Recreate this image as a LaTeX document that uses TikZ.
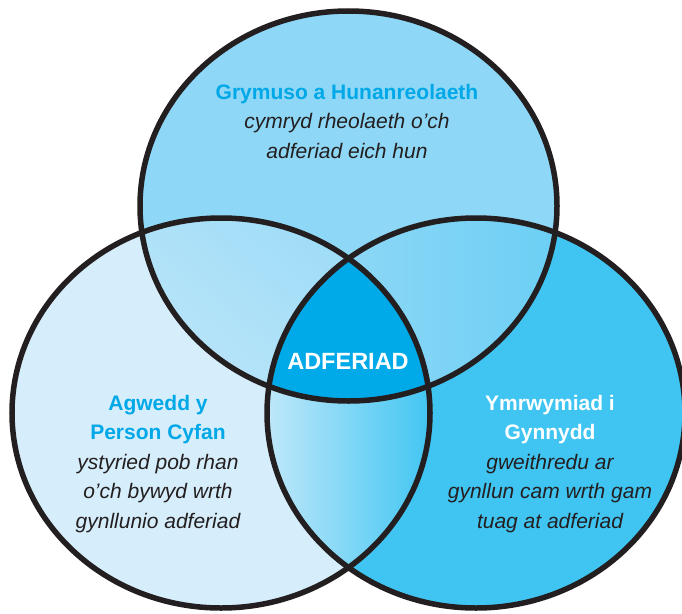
\documentclass[tikz,border=0pt]{standalone}
\usepackage{fontspec}
\setmainfont{Liberation Sans}
\usetikzlibrary{shadings}
\definecolor{topc}{HTML}{8ED7F6}
\definecolor{leftc}{HTML}{D6EEFB}
\definecolor{rightc}{HTML}{40C5F2}
\definecolor{midc}{HTML}{00A9E7}
\definecolor{titlec}{HTML}{00A8E8}
\definecolor{ringc}{HTML}{231F20}
\definecolor{bodyc}{HTML}{231F20}
\begin{document}
\begin{tikzpicture}[x=1pt,y=-1pt,
  ring/.style={draw=ringc,line width=5.5pt},
  blocktext/.style={align=center,inner sep=0pt,text=bodyc,font=\fontsize{21}{29.5}\selectfont},
  heading/.style={font=\bfseries,text=titlec}]
\useasboundingbox (0,0) rectangle (682,613);
\fill[white] (0,0) rectangle (682,613);
\def\topE{(348.5,206) ellipse [x radius=208.5pt, y radius=195pt]}
\def\leftE{(221,413) ellipse [x radius=209pt, y radius=195pt]}
\def\rightE{(476,413) ellipse [x radius=209pt, y radius=195pt]}
% single regions
\fill[leftc] \leftE;
\fill[rightc] \rightE;
\fill[topc] \topE;
% top & left
\begin{scope}
  \clip \topE; \clip \leftE;
  \shade[lower left=leftc!70!topc, upper right=topc!85!leftc,
         upper left=leftc!45!topc, lower right=leftc!45!topc] (135,215) rectangle (360,405);
\end{scope}
% top & right
\begin{scope}
  \clip \topE; \clip \rightE;
  \shade[left color=topc, right color=topc!55!rightc] (340,215) rectangle (562,405);
\end{scope}
% left & right
\begin{scope}
  \clip \leftE; \clip \rightE;
  \shade[left color=leftc!85!rightc, right color=rightc] (266,215) rectangle (432,612);
\end{scope}
% centre
\begin{scope}
  \clip \topE; \clip \leftE; \clip \rightE;
  \fill[midc] (260,250) rectangle (440,410);
\end{scope}
% outlines
\draw[ring] \topE;
\draw[ring] \leftE;
\draw[ring] \rightE;
% texts
\node[blocktext] (toptext) at (347,121)
  {{\bfseries\color{titlec}Grymuso a Hunanreolaeth}\\ \itshape cymryd rheolaeth o'ch\\ \itshape adferiad eich hun};
\node[font=\fontsize{23.5}{28}\selectfont\bfseries,text=white,inner sep=0pt] (centre) at (348,361) {ADFERIAD};
\node[blocktext] (lefttext) at (158,464)
  {{\bfseries\color{titlec}Agwedd y}\\ {\bfseries\color{titlec}Person Cyfan}\\ \itshape ystyried pob rhan\\ \itshape o'ch bywyd wrth\\ \itshape gynllunio adferiad};
\node[blocktext] (righttext) at (550,464)
  {{\bfseries\color{white}Ymrwymiad i}\\ {\bfseries\color{white}Gynnydd}\\ \itshape gweithredu ar\\ \itshape gynllun cam wrth gam\\ \itshape tuag at adferiad};
\end{tikzpicture}
\end{document}
